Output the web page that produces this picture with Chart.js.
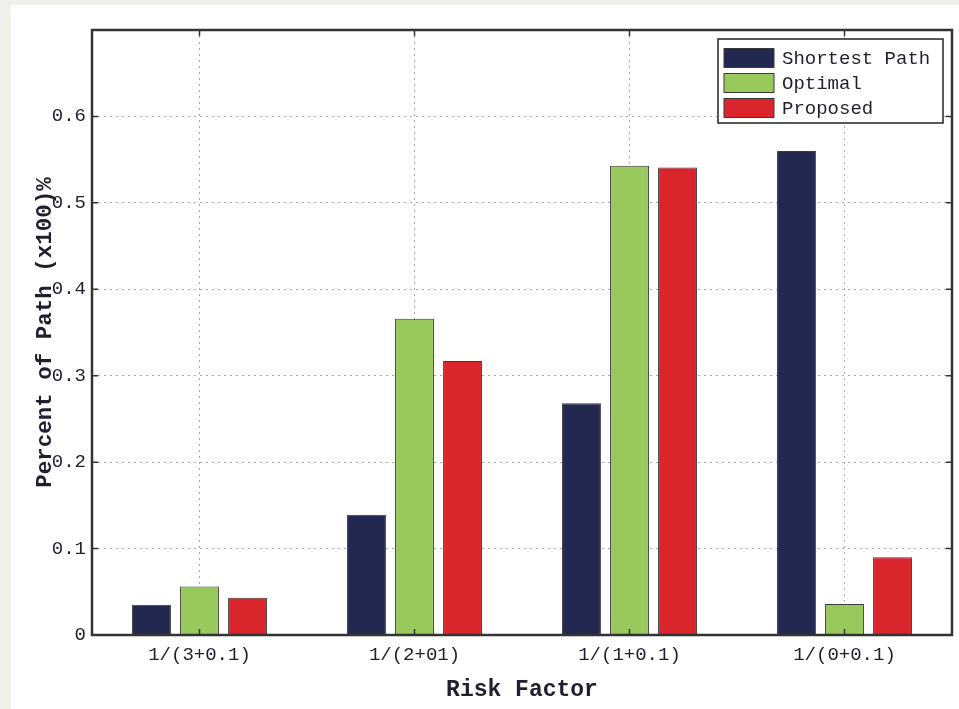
<!DOCTYPE html>
<html>
<head>
<meta charset="utf-8">
<script src="https://cdn.jsdelivr.net/npm/chart.js@4/dist/chart.umd.min.js"></script>
<style>
  html, body { margin: 0; padding: 0; background: #f2f0eb; }
  #wrap { width: 959px; height: 709px; }
</style>
</head>
<body>
<div id="wrap"><canvas id="chart" width="959" height="709"></canvas></div>
<script>
const categories = ['1/(3+0.1)', '1/(2+01)', '1/(1+0.1)', '1/(0+0.1)'];
const shortestPath = [0.035, 0.139, 0.268, 0.560];
const optimal = [0.056, 0.366, 0.543, 0.036];
const proposed = [0.043, 0.317, 0.541, 0.090];
const seriesNames = ['Shortest Path', 'Optimal', 'Proposed'];
const seriesColors = ['#232850', '#99c95d', '#d9252b'];

const mono = '"Liberation Mono", "DejaVu Sans Mono", monospace';
const textColor = '#1f1f30';

// page + white figure backdrop
const backdrop = {
  id: 'backdrop',
  beforeDraw(chart) {
    const ctx = chart.ctx;
    ctx.save();
    ctx.fillStyle = '#f2f0eb';
    ctx.fillRect(0, 0, chart.width, chart.height);
    ctx.fillStyle = '#ffffff';
    ctx.fillRect(11, 5, chart.width - 11, chart.height - 5);
    ctx.restore();
  }
};

// box around the axes with inward ticks on all sides
const frame = {
  id: 'frame',
  afterDatasetsDraw(chart) {
    const {ctx, chartArea: a, scales} = chart;
    ctx.save();
    ctx.strokeStyle = '#333333';
    ctx.lineWidth = 1.5;
    scales.y.ticks.forEach((t, i) => {
      const y = scales.y.getPixelForTick(i);
      ctx.beginPath();
      ctx.moveTo(a.left, y); ctx.lineTo(a.left + 6, y);
      ctx.moveTo(a.right, y); ctx.lineTo(a.right - 6, y);
      ctx.stroke();
    });
    scales.x.ticks.forEach((t, i) => {
      const x = scales.x.getPixelForTick(i);
      ctx.beginPath();
      ctx.moveTo(x, a.bottom); ctx.lineTo(x, a.bottom - 6);
      ctx.moveTo(x, a.top); ctx.lineTo(x, a.top + 6);
      ctx.stroke();
    });
    ctx.lineWidth = 2.5;
    ctx.strokeRect(a.left, a.top, a.right - a.left, a.bottom - a.top);
    ctx.restore();
  }
};

// boxed legend in the upper right corner of the axes
const boxLegend = {
  id: 'boxLegend',
  afterDraw(chart) {
    const ctx = chart.ctx;
    const x0 = 718, y0 = 39, w = 225, h = 84;
    ctx.save();
    ctx.fillStyle = '#ffffff';
    ctx.fillRect(x0, y0, w, h);
    ctx.strokeStyle = '#222222';
    ctx.lineWidth = 1.5;
    ctx.strokeRect(x0, y0, w, h);
    ctx.font = '19px ' + mono;
    ctx.textBaseline = 'middle';
    chart.data.datasets.forEach((ds, i) => {
      const cy = 58 + i * 25;
      ctx.fillStyle = ds.backgroundColor;
      ctx.fillRect(724, cy - 9.5, 50, 19);
      ctx.strokeStyle = '#3a3a3a';
      ctx.lineWidth = 1;
      ctx.strokeRect(724, cy - 9.5, 50, 19);
      ctx.fillStyle = textColor;
      ctx.fillText(ds.label, 782, cy + 1);
    });
    ctx.restore();
  }
};

new Chart(document.getElementById('chart'), {
  type: 'bar',
  data: {
    labels: categories,
    datasets: [shortestPath, optimal, proposed].map((vals, i) => ({
      label: seriesNames[i],
      data: vals,
      backgroundColor: seriesColors[i],
      borderColor: '#3a3a3a',
      borderWidth: 1,
      categoryPercentage: 0.67,
      barPercentage: 0.81
    }))
  },
  options: {
    responsive: false,
    animation: false,
    layout: { padding: { top: 30, right: 7, bottom: 0, left: 0 } },
    plugins: {
      legend: { display: false },
      tooltip: { enabled: false }
    },
    scales: {
      x: {
        offset: true,
        afterFit: s => { s.height = 74; },
        grid: { offset: false, color: '#a8a8a8', lineWidth: 1, drawTicks: false },
        border: { display: false, dash: [2, 4] },
        ticks: { color: textColor, font: { family: mono, size: 19 }, padding: 9, maxRotation: 0 },
        title: {
          display: true, text: 'Risk Factor', color: textColor,
          font: { family: mono, size: 23, weight: 'bold' },
          padding: { top: 0, bottom: 5 }
        }
      },
      y: {
        min: 0, max: 0.7,
        afterFit: s => { s.width = 92; },
        grid: { color: '#a8a8a8', lineWidth: 1, drawTicks: false },
        border: { display: false, dash: [2, 4] },
        ticks: {
          stepSize: 0.1, color: textColor, padding: 6,
          font: { family: mono, size: 19 },
          callback: v => v > 0.65 ? '' : (Math.round(v * 10) / 10).toString()
        },
        title: {
          display: true, text: 'Percent of Path (x100)%', color: textColor,
          font: { family: mono, size: 22.5, weight: 'bold' },
          padding: { top: 32, bottom: 0 }
        }
      }
    }
  },
  plugins: [backdrop, frame, boxLegend]
});
</script>
</body>
</html>
